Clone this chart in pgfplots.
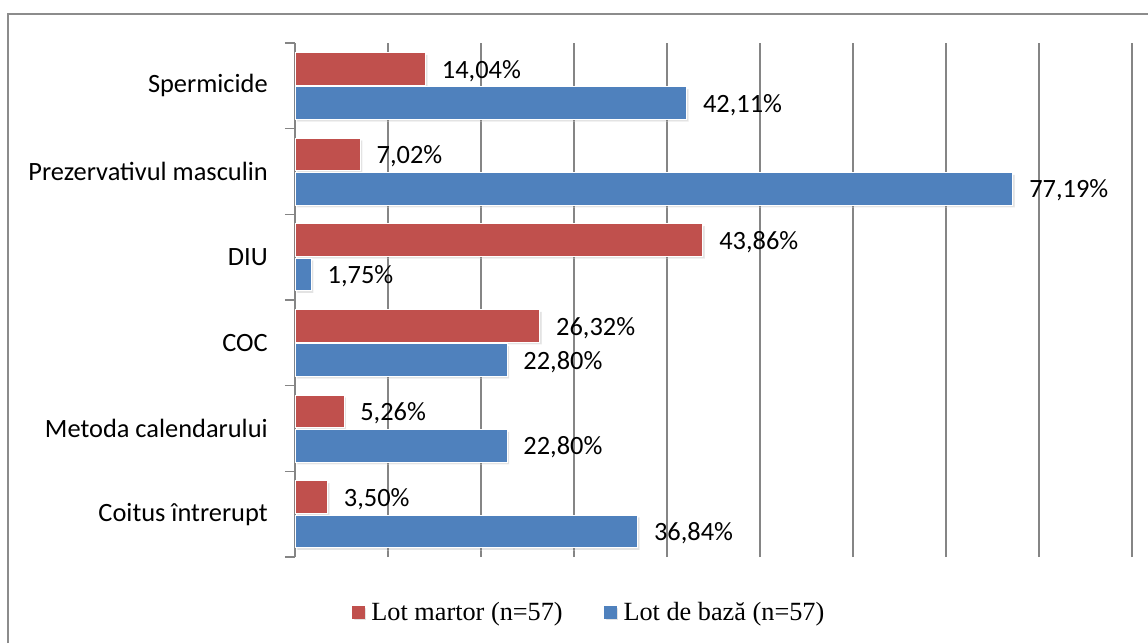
\documentclass[border=0pt]{standalone}
\usepackage{pgfplots}
\pgfplotsset{compat=1.18}
\usepackage{pgfplotstable}
\usepackage{fontspec}
\setmainfont{Liberation Serif}
\newfontfamily\carlito{Carlito}
\usetikzlibrary{shadows}

\definecolor{martor}{HTML}{C0504D}
\definecolor{baza}{HTML}{4F81BD}
\definecolor{gridgray}{HTML}{858585}
\definecolor{framegray}{HTML}{8C8C8C}

% Contraceptive methods (0 = bottom row), shares in percent
\pgfplotstableread{
cat martor baza
0 3.50 36.84
1 5.26 22.80
2 26.32 22.80
3 43.86 1.75
4 7.02 77.19
5 14.04 42.11
}\metode

\begin{document}
\begin{tikzpicture}[x=0.75pt, y=0.75pt]
\begin{axis}[
  scale only axis, width=627.75pt, height=385.5pt,
  xmin=0, xmax=90, ymin=-0.5, ymax=5.5,
  xtick={0,10,...,90}, xticklabels={}, xtick style={draw=none},
  xmajorgrids, grid style={color=gridgray, line width=1.2pt},
  axis line style={draw=none},
  ytick={-0.5,0.5,...,5.5}, yticklabels={},
  ytick pos=left, tick align=outside, major tick length=7.5pt,
  ytick style={color=gridgray, line width=1.2pt},
  extra y ticks={0,1,2,3,4,5},
  extra y tick labels={Coitus întrerupt, Metoda calendarului, COC, DIU, Prezervativul masculin, Spermicide},
  extra y tick style={major tick length=0pt},
  yticklabel style={font=\carlito\fontsize{19.8}{24}\selectfont, inner sep=0pt, anchor=east, xshift=-20.25pt},
  xbar, bar width=0.38,
  point meta=x,
  nodes near coords={\pgfmathprintnumber{\pgfplotspointmeta}\%},
  /pgf/number format/.cd, fixed, fixed zerofill, precision=2, use comma, assume math mode=true,
  /pgfplots/.cd,
  every node near coord/.append style={font=\carlito\fontsize{19.8}{24}\selectfont, color=black, anchor=west, inner sep=0pt, xshift=12pt, yshift=-1.5pt},
  legend style={at={(0.350,-0.107)}, anchor=center, draw=none, fill=none,
    legend columns=2, font=\fontsize{19.7}{24}\selectfont,
    nodes={inner sep=0pt},
    /tikz/every odd column/.append style={column sep=5.25pt},
    /tikz/every even column/.append style={column sep=30.75pt}},
]
\addplot[xbar, bar shift=0.2, fill=martor, draw=white, line width=0.6pt,
  drop shadow={shadow xshift=1.5pt, shadow yshift=-1.8pt, opacity=0.22},
  legend image code/.code={\fill[martor] (0pt,-4.5pt) rectangle (9pt,4.5pt);}]
  table[x=martor, y=cat]{\metode};
\addlegendentry{Lot martor (n=57)}
\addplot[xbar, bar shift=-0.2, fill=baza, draw=white, line width=0.6pt,
  drop shadow={shadow xshift=1.5pt, shadow yshift=-1.8pt, opacity=0.22},
  legend image code/.code={\fill[baza] (0pt,-4.5pt) rectangle (9pt,4.5pt);}]
  table[x=baza, y=cat]{\metode};
\addlegendentry{Lot de bază (n=57)}
\coordinate (plotbl) at (rel axis cs:0,0);
\end{axis}
% page origin: 295 px left of and 86 px below the plot area
\path (plotbl) ++(-295,-86) coordinate (pageorigin);
\begin{scope}[shift={(pageorigin)}]
  \draw[framegray, line width=1.5pt] (8,0) -- (8,629) -- (1148,629);
\end{scope}
\pgfresetboundingbox
\path[use as bounding box, shift={(pageorigin)}] (0,0) rectangle (1148,643);
\end{tikzpicture}
\end{document}
